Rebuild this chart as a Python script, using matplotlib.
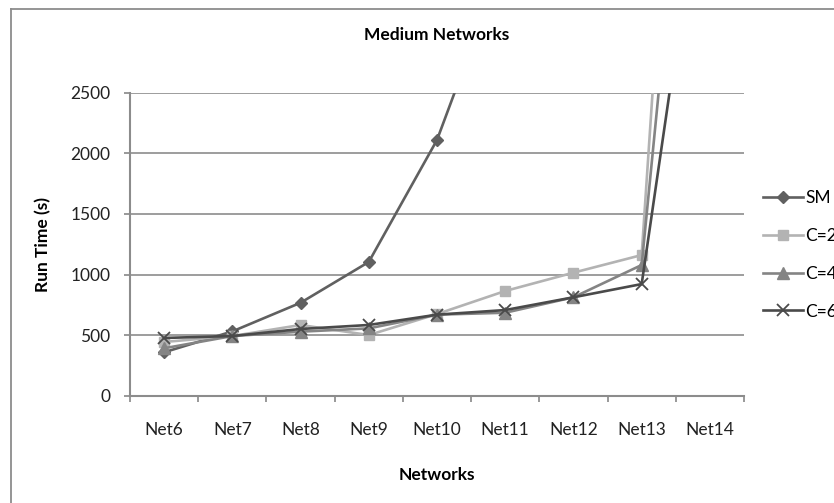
import matplotlib
matplotlib.use("Agg")
import matplotlib.pyplot as plt
from matplotlib.lines import Line2D

categories = ["Net6", "Net7", "Net8", "Net9", "Net10", "Net11", "Net12", "Net13", "Net14"]
sm = [360, 532, 768, 1104, 2109, 3620, 5200, 7000, 9000]
c2 = [445, 494, 585, 502, 675, 865, 1016, 1161, 9550]
c4 = [393, 494, 530, 557, 670, 686, 813, 1079, 6790]
c6 = [478, 494, 552, 585, 670, 708, 813, 922, 4780]
series_names = ["SM", "C=2", "C=4", "C=6"]
y_ticks = [0, 500, 1000, 1500, 2000, 2500]

plt.rcParams['font.family'] = ['Lato', 'DejaVu Sans']

W, H = 834, 503
fig = plt.figure(figsize=(W / 100, H / 100), dpi=100)
fig.patch.set_facecolor("white")

ax = fig.add_axes([130 / W, 1 - 396 / H, (744 - 130) / W, (396 - 92.5) / H])

x = list(range(len(categories)))
styles = [
    dict(color="#606060", marker="D", markersize=6.5),
    dict(color="#b3b3b3", marker="s", markersize=7.5),
    dict(color="#848484", marker="^", markersize=8),
    dict(color="#4a4a4a", marker="x", markersize=8, markeredgewidth=1.3),
]
for vals, name, st in zip([sm, c2, c4, c6], series_names, styles):
    ax.plot(x, vals, linewidth=1.9, label=name, clip_on=True, **st)

ax.set_xlim(-0.5, len(categories) - 0.5)
ax.set_ylim(0, 2500)
ax.set_yticks(y_ticks)
ax.set_xticks(x)
ax.set_xticklabels(categories)
ax.set_xticks([i - 0.5 for i in range(len(categories) + 1)], minor=True)
ax.tick_params(axis="x", which="major", length=0, pad=19, labelsize=12.5, colors="#222222")
ax.tick_params(axis="x", which="minor", length=4.5, width=1.2, color="#888888")
ax.tick_params(axis="y", length=4.5, width=1.2, color="#888888", pad=9.5, labelsize=12.5, labelcolor="#222222")

ax.grid(axis="y", color="#8c8c8c", linewidth=1.2)
ax.set_axisbelow(True)
for s in ["top", "right"]:
    ax.spines[s].set_visible(False)
for s in ["left", "bottom"]:
    ax.spines[s].set_color("#8c8c8c")
    ax.spines[s].set_linewidth(1.5)

fig.text(437 / W, 1 - 35 / H, "Medium Networks", ha="center", va="center", fontsize=12.5, fontweight="bold")
fig.text(437 / W, 1 - 475 / H, "Networks", ha="center", va="center", fontsize=12.5, fontweight="bold")
fig.text(43 / W, 1 - 245 / H, "Run Time (s)", ha="center", va="center", rotation=90, fontsize=12.5, fontweight="bold")

fig.legend(loc="center left", bbox_to_anchor=(763 / W, 1 - 255 / H), bbox_transform=fig.transFigure,
           frameon=False, fontsize=12.5, handlelength=2.3, handletextpad=0.15, labelspacing=1.25,
           borderpad=0, borderaxespad=0)

fig.add_artist(Line2D([11 / W, 11 / W], [0, 1 - 8.7 / H], transform=fig.transFigure, color="#8c8c8c", linewidth=1.3))
fig.add_artist(Line2D([11 / W, 1], [1 - 8.7 / H, 1 - 8.7 / H], transform=fig.transFigure, color="#8c8c8c", linewidth=1.3))

fig.savefig("out.png", dpi=100)
